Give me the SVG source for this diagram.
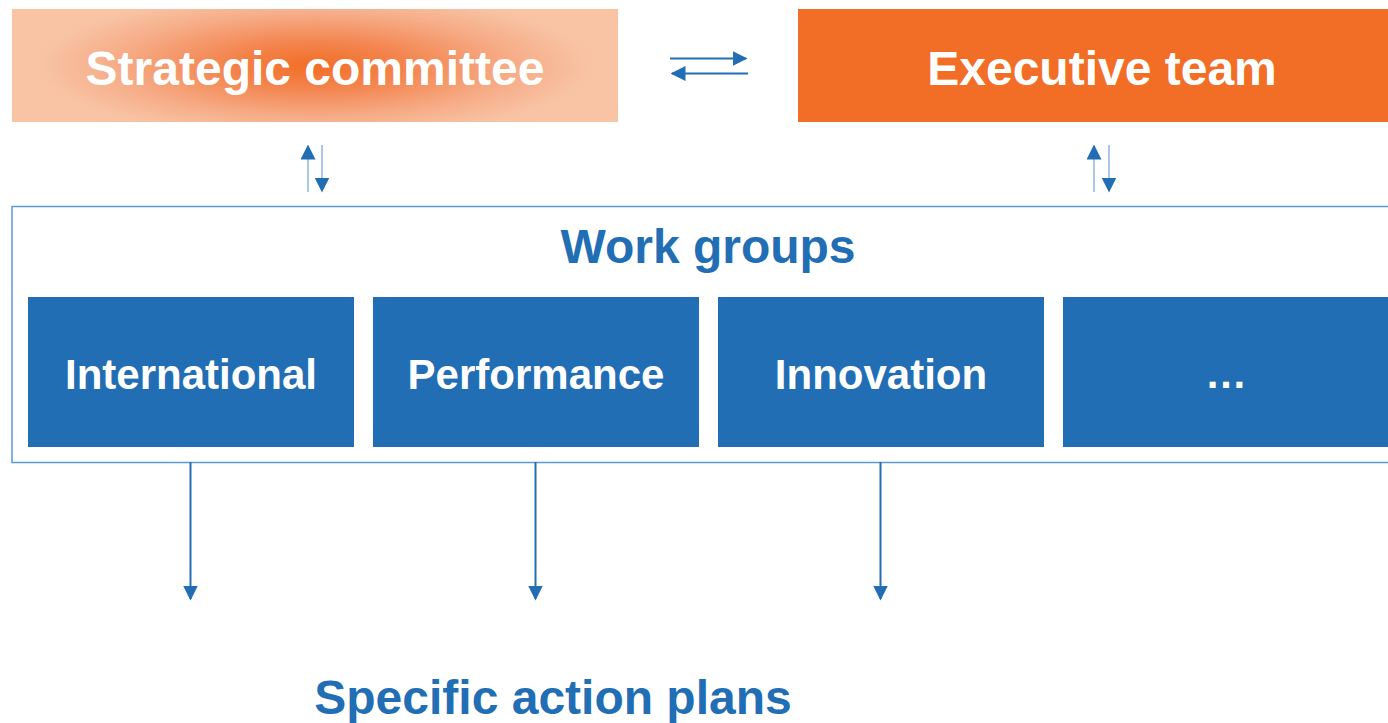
<svg xmlns="http://www.w3.org/2000/svg" width="1388" height="723" viewBox="0 0 1388 723">
<style>
.t{font-family:"Liberation Sans",Arial,sans-serif;font-weight:bold;text-anchor:middle}
.w{fill:#fff}
.b{fill:#226eb5}
.box{fill:#226eb5}
.c{stroke:#226eb5;stroke-width:2;fill:none}
.cl{stroke:#8fb4dc;stroke-width:1.5;fill:none}
</style>
<defs>
<radialGradient id="g1" cx="0.5" cy="0.5" r="0.5" gradientTransform="translate(0.5 0.5) scale(1 1.4) translate(-0.5 -0.5)">
<stop offset="0" stop-color="#f26d25"/>
<stop offset="0.3" stop-color="#f3854f"/>
<stop offset="0.65" stop-color="#f6ac87"/>
<stop offset="0.9" stop-color="#f8c3a3"/>
<stop offset="1" stop-color="#f8c4a4"/>
</radialGradient>
<marker id="ah" viewBox="0 0 10 10" refX="9" refY="5" markerWidth="7.5" markerHeight="7.5" orient="auto" markerUnits="strokeWidth"><path d="M0,0 L10,5 L0,10 z" fill="#226eb5"/></marker>
<marker id="ah2" viewBox="0 0 10 10" refX="9" refY="5" markerWidth="10" markerHeight="10" orient="auto" markerUnits="strokeWidth"><path d="M0,0 L10,5 L0,10 z" fill="#226eb5"/></marker>
</defs>
<g id="strategic">
<rect x="12" y="9" width="606" height="113" fill="url(#g1)"/>
<text class="t w" x="315" y="85" font-size="48">Strategic committee</text>
</g>
<g id="executive">
<rect x="798" y="9" width="590" height="113" fill="#f26d25"/>
<text class="t w" x="1102" y="85" font-size="48">Executive team</text>
</g>
<g id="workgroups">
<rect x="12" y="206.5" width="1380" height="256" fill="none" stroke="#5b9bd5" stroke-width="1.5"/>
<text class="t b" x="708" y="263" font-size="48">Work groups</text>
</g>
<g id="international">
<rect class="box" x="28" y="297" width="326" height="150"/>
<text class="t w" x="191" y="389" font-size="42">International</text>
</g>
<g id="performance">
<rect class="box" x="373" y="297" width="326" height="150"/>
<text class="t w" x="536" y="389" font-size="42">Performance</text>
</g>
<g id="innovation">
<rect class="box" x="718" y="297" width="326" height="150"/>
<text class="t w" x="881" y="389" font-size="42">Innovation</text>
</g>
<g id="more">
<rect class="box" x="1063" y="297" width="330" height="150"/>
<text class="t w" x="1226" y="388" font-size="42">…</text>
</g>
<g id="plans">
<text class="t b" x="553" y="714" font-size="48">Specific action plans</text>
</g>
<g id="connectors">
<line class="c" x1="670" y1="58.5" x2="746" y2="58.5" marker-end="url(#ah)"/>
<line class="c" x1="748" y1="73.5" x2="672" y2="73.5" marker-end="url(#ah)"/>
<line class="cl" x1="308" y1="192" x2="308" y2="146" marker-end="url(#ah2)"/>
<line class="cl" x1="322" y1="145" x2="322" y2="191" marker-end="url(#ah2)"/>
<line class="cl" x1="1094" y1="192" x2="1094" y2="146" marker-end="url(#ah2)"/>
<line class="cl" x1="1109" y1="145" x2="1109" y2="191" marker-end="url(#ah2)"/>
<line class="c" x1="190.5" y1="462" x2="190.5" y2="599" marker-end="url(#ah)"/>
<line class="c" x1="535.5" y1="462" x2="535.5" y2="599" marker-end="url(#ah)"/>
<line class="c" x1="880.5" y1="462" x2="880.5" y2="599" marker-end="url(#ah)"/>
</g>
</svg>
